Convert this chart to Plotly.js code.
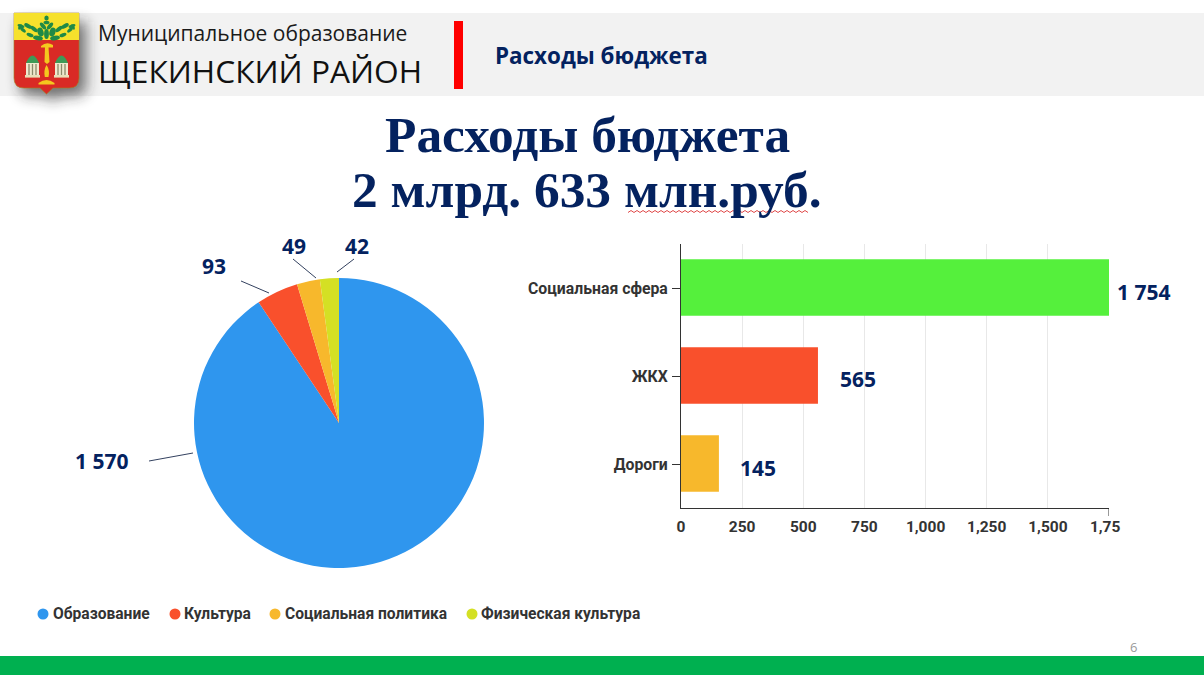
<!DOCTYPE html>
<html><head><meta charset="utf-8">
<script src="https://cdn.plot.ly/plotly-3.0.1.min.js"></script>
<style>html,body{margin:0;padding:0;background:#fff;overflow:hidden}#c{width:1204px;height:675px}</style>
</head><body><div id="c"></div>
<script>
// ---- data ----
const pieCategories = ['Образование','Культура','Социальная политика','Физическая культура'];
const pieSlices = [1590, 82, 45, 37];           // proportions as drawn
const pieLabels = ['1 570','93','49','42'];
const pieColors = ['#2f96ee','#f9502c','#f7b82c','#d4e024'];
const barCategories = ['Социальная сфера','ЖКХ','Дороги'];
const barValues = [1754, 560, 155];             // lengths as drawn
const barLabels = ['1 754','565','145'];
const barColors = ['#55f03c','#f9502c','#f7b82c'];
const xTickVals = [0,250,500,750,1000,1250,1500,1750];
const xTickText = ['0','250','500','750','1,000','1,250','1,500','1,75\u00a0\u00a0'];

const W=1204,H=675;
const px=x=>x/W, py=y=>1-y/H;
const navy='#04225f', ink='#333333';
const condensed='Roboto, sans-serif';

const leaf=(x,y,r,a,b)=>`<ellipse cx="${x}" cy="${y}" rx="${a||4.2}" ry="${b||2}" transform="rotate(${r} ${x} ${y})"/>`;
const rotunda=`<path d="M26 63Q32.5 48 39 63Z" fill="#3e9a57"/><rect x="26" y="63" width="13" height="12" fill="#efe9cf"/><path d="M29 64V75M32.5 64V75M36 64V75" stroke="#8a8a6a" stroke-width="1.3"/><rect x="25" y="75" width="15" height="2.6" fill="#e8dfb8"/>`;
const emblem = `<svg xmlns="http://www.w3.org/2000/svg" width="130" height="130" viewBox="0 0 130 130">
<defs><filter id="b" x="-40%" y="-40%" width="180%" height="180%"><feGaussianBlur stdDeviation="7"/></filter></defs>
<path d="M14 14H80V78Q80 88 70 88H54L47 94L40 88H24Q14 88 14 78Z" transform="translate(6,8)" fill="#222" opacity=".62" filter="url(#b)"/>
<path d="M14 13H79V78Q79 88 69 88H53L46.5 94L40 88H24Q14 88 14 78Z" fill="#d92a25" stroke="#a8821e" stroke-width=".6"/>
<path d="M14 13H79V40H14Z" fill="#f6e12c"/>
<g fill="#1f8a46">${leaf(46.5,18,90,2.6,2.2)}${leaf(46.5,22.5,0,3,1.8)}
${leaf(43,26,50)}${leaf(50,26,-50)}${leaf(40.5,32,70,4.5,3)}${leaf(52.5,32,-70,4.5,3)}${leaf(46.5,34,90,5,2.4)}
${leaf(38,38,10,5,2.2)}${leaf(55,38,-10,5,2.2)}${leaf(34,29,40)}${leaf(59,29,-40)}${leaf(30,35,20,3.6,1.8)}${leaf(63,35,-20,3.6,1.8)}
${leaf(28,26,30)}${leaf(65,26,-30)}${leaf(23,30,40,3.4,1.6)}${leaf(70,30,-40,3.4,1.6)}${leaf(20,27,-60,3,1.5)}${leaf(73,27,60,3,1.5)}${leaf(72,26,-20,3.6,1.6)}${leaf(21,26,20,3.6,1.6)}</g>
<g fill="#f4c81e"><path d="M41 46Q46.5 41 53 45V47.5H41Z"/><path d="M45 47H48.5L49.5 62L47 64L44.5 62Z"/><path d="M46.5 65Q50 70 48.5 77H44.8Q43.5 70 46.5 65Z"/><path d="M38.5 83Q46.5 77 54.5 83V84.5H38.5Z"/></g>
${rotunda}<g transform="translate(29,0)">${rotunda}</g>
</svg>`;

// wavy spell-check underline, as in the slide
let squiggle='';
for(let x=628,i=0;x<=810;x+=3,i++){ squiggle+=(i?'L':'M')+px(x)+','+py(i%2?210.5:212.5); }

const shapes=[
 {type:'rect',xref:'paper',yref:'paper',layer:'below',x0:0,x1:1,y0:py(96),y1:py(13),fillcolor:'#f2f2f2',line:{width:0}},
 {type:'rect',xref:'paper',yref:'paper',x0:px(454),x1:px(463),y0:py(89),y1:py(21),fillcolor:'#ff0000',line:{width:0}},
 {type:'rect',xref:'paper',yref:'paper',x0:0,x1:1,y0:0,y1:py(656),fillcolor:'#00b050',line:{width:0}},
 {type:'path',xref:'paper',yref:'paper',path:squiggle,line:{color:'#e04a4a',width:1}},
 {type:'line',xref:'x',yref:'paper',x0:1750,x1:1750,y0:py(508),y1:py(516),line:{color:'#333',width:1}}
];
const leaders=[[149,461,193,453],[241,281,269,293],[293,259,316,278],[354,259,337,272]];
leaders.forEach(l=>shapes.push({type:'line',xref:'paper',yref:'paper',x0:px(l[0]),y0:py(l[1]),x1:px(l[2]),y1:py(l[3]),line:{color:'#33415f',width:1}}));

const text=(x,y,t,size,color,family,bold,anchor)=>({xref:'paper',yref:'paper',x:px(x),y:py(y),xanchor:anchor||'center',yanchor:'middle',showarrow:false,
  text:bold?'<b>'+t+'</b>':t,font:{size,color,family}});
const ann=[
 text(96,33,'Муниципальное образование',21,'#1a1a1a','Open Sans',false,'left'),
 text(96,70,'ЩЕКИНСКИЙ РАЙОН',31.7,'#111111','Open Sans',false,'left'),
 text(493,56,'Расходы бюджета',22.4,navy,'Open Sans',true,'left'),
 text(587,134,'Расходы бюджета',51.4,navy,'Liberation Serif',true),
 text(587,190,'2 млрд. 633 млн.руб.',51.4,navy,'Liberation Serif',true),
 text(1133,647,'6',13,'#9a9a9a','Open Sans')
];
[[101,461],[214,266],[294,246],[357,246]].forEach((p,i)=>ann.push(text(p[0],p[1],pieLabels[i],21,navy,'Open Sans',true)));
[[1143,292],[858,379],[758,468]].forEach((p,i)=>ann.push(text(p[0],p[1],barLabels[i],21,navy,'Open Sans',true)));
const legendX=[43,175,275,472], legendTextX=[51,182,283,479];
pieCategories.forEach((c,i)=>{
  shapes.push({type:'circle',xref:'paper',yref:'paper',x0:px(legendX[i]-5.5),x1:px(legendX[i]+5.5),y0:py(619.5),y1:py(608.5),fillcolor:pieColors[i],line:{width:0}});
  ann.push(text(legendTextX[i],613.5,c,15.6,ink,condensed,true,'left'));
});

const traces=[
 {type:'pie',values:pieSlices,labels:pieCategories,sort:false,direction:'clockwise',rotation:0,
  marker:{colors:pieColors,line:{width:0}},textinfo:'none',hoverinfo:'label+value',showlegend:false,
  domain:{x:[px(194),px(484)],y:[py(568),py(278)]}},
 {type:'bar',orientation:'h',x:barValues,y:[0,1,2],width:0.64,marker:{color:barColors,line:{width:0}},hoverinfo:'x',showlegend:false,cliponaxis:false}
];
const layout={
 width:W,height:H,margin:{l:0,r:0,t:0,b:0},paper_bgcolor:'#fff',plot_bgcolor:'#fff',showlegend:false,
 xaxis:{domain:[px(681),px(1109)],range:[0,1750],tickmode:'array',tickvals:xTickVals,ticktext:xTickText,
   showgrid:true,gridcolor:'#e8e8e8',gridwidth:1,zeroline:false,showline:true,linecolor:'#333',linewidth:1,
   ticks:'',ticklabelstandoff:4,tickangle:0,tickfont:{family:condensed,size:15.5,color:ink,weight:700}},
 yaxis:{domain:[py(508),py(244)],range:[2.506,-0.494],tickmode:'array',tickvals:[0.015,1.015,2.015],ticktext:barCategories,
   showgrid:false,zeroline:false,showline:true,linecolor:'#333',linewidth:1,ticks:'outside',ticklen:8,tickcolor:'#333',ticklabelstandoff:1,
   tickfont:{family:condensed,size:15.8,color:ink,weight:700}},
 shapes,annotations:ann,
 images:[{source:'data:image/svg+xml;charset=utf-8,'+encodeURIComponent(emblem),xref:'paper',yref:'paper',
   x:0,y:1,sizex:130/W,sizey:130/H,xanchor:'left',yanchor:'top',sizing:'stretch',layer:'above'}]
};
Plotly.newPlot('c',traces,layout,{displayModeBar:false,staticPlot:true});
</script></body></html>
